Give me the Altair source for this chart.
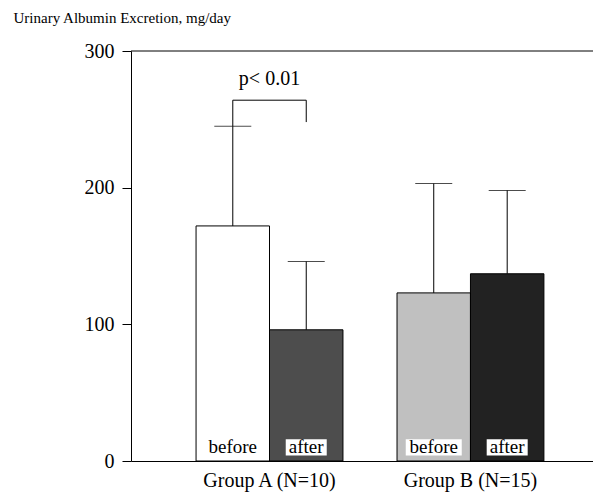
import altair as alt
import pandas as pd

groups = ["Group A (N=10)", "Group A (N=10)", "Group B (N=15)", "Group B (N=15)"]
phases = ["before", "after", "before", "after"]
means = [172, 96, 123, 137]
upper = [245, 146, 203, 198]
colors = ["#ffffff", "#4d4d4d", "#c0c0c0", "#222222"]

bracket_x_group = ["Group A (N=10)"] * 4
bracket_phase = ["before", "before", "after", "after"]
bracket_y = [245, 264, 264, 248]
bracket_order = [0, 1, 2, 3]
p_text = "p< 0.01"
p_y = 275

df = pd.DataFrame({"Group": groups, "Phase": phases, "Mean": means,
                   "Upper": upper, "Color": colors})
br = pd.DataFrame({"Group": bracket_x_group, "Phase": bracket_phase,
                   "Y": bracket_y, "Order": bracket_order})
pdf = pd.DataFrame({"Group": ["Group A (N=10)"], "Y": [p_y], "T": [p_text]})

FONT = "Liberation Serif"
group_order = ["Group A (N=10)", "Group B (N=15)"]
phase_order = ["before", "after"]

xenc = alt.X("Group:N", sort=group_order,
             scale=alt.Scale(paddingInner=0.269, paddingOuter=0.284, align=0.57),
             axis=alt.Axis(title=None, labelAngle=0, labelFont=FONT, labelFontSize=20,
                           labelColor="black", ticks=False, labelPadding=9,
                           domainColor="black", domainWidth=1))
xoff = alt.XOffset("Phase:N", sort=phase_order,
                   scale=alt.Scale(paddingInner=0, paddingOuter=0))
yscale = alt.Scale(domain=[0, 300], nice=False)
yaxis = alt.Axis(values=[0, 100, 200, 300], grid=False, tickSize=9, tickColor="black",
                 domainColor="black", labelFont=FONT, labelFontSize=20, labelColor="black",
                 labelPadding=8,
                 title="Urinary Albumin Excretion, mg/day", titleAngle=0, titleFont=FONT,
                 titleFontSize=15, titleFontWeight="normal", titleColor="black",
                 titleX=-118, titleY=-29, titleAlign="left", titleBaseline="alphabetic")

base = alt.Chart(df)

bars = base.mark_bar(stroke="black", strokeWidth=1).encode(
    x=xenc, xOffset=xoff,
    y=alt.Y("Mean:Q", scale=yscale, axis=yaxis),
    fill=alt.Color("Color:N", scale=None),
)

err = base.mark_rule(color="black", strokeWidth=1).encode(
    x=alt.X("Group:N", sort=group_order), xOffset=xoff,
    y="Mean:Q", y2="Upper:Q",
)
caps = base.mark_tick(color="black", thickness=1, size=37).encode(
    x=alt.X("Group:N", sort=group_order), xOffset=xoff,
    y="Upper:Q",
)

box_before = base.transform_filter(alt.datum.Phase == "before").mark_bar(
    size=56, fill="white", stroke=None).encode(
    x=alt.X("Group:N", sort=group_order), xOffset=xoff,
    y=alt.datum(4), y2=alt.datum(16),
)
box_after = base.transform_filter(alt.datum.Phase == "after").mark_bar(
    size=41, fill="white", stroke=None).encode(
    x=alt.X("Group:N", sort=group_order), xOffset=xoff,
    y=alt.datum(4), y2=alt.datum(16),
)
labels = base.mark_text(font=FONT, fontSize=19, color="black",
                        baseline="alphabetic", dy=0).encode(
    x=alt.X("Group:N", sort=group_order), xOffset=xoff,
    y=alt.datum(6), text="Phase:N",
)

top_rule = alt.Chart(pd.DataFrame({"v": [300]})).mark_rule(color="black", strokeWidth=1).encode(
    y=alt.Y("v:Q", scale=yscale))

bracket = alt.Chart(br).mark_line(color="black", strokeWidth=1, interpolate="linear").encode(
    x=alt.X("Group:N", sort=group_order), xOffset=alt.XOffset("Phase:N", sort=phase_order),
    y=alt.Y("Y:Q", scale=yscale), order="Order:Q",
)
ptext = alt.Chart(pdf).mark_text(font=FONT, fontSize=20, color="black",
                                 baseline="alphabetic").encode(
    x=alt.X("Group:N", sort=group_order), y=alt.Y("Y:Q", scale=yscale), text="T:N")

chart = alt.layer(bars, err, caps, box_before, box_after, labels, top_rule, bracket, ptext).properties(
    width=462, height=410,
    autosize=alt.AutoSizeParams(type="none"),
    padding={"left": 131, "top": 51, "right": 0, "bottom": 31},
    background="white",
).configure_view(stroke=None)

chart.save("out.html", embed_options={"renderer": "svg", "actions": False})
